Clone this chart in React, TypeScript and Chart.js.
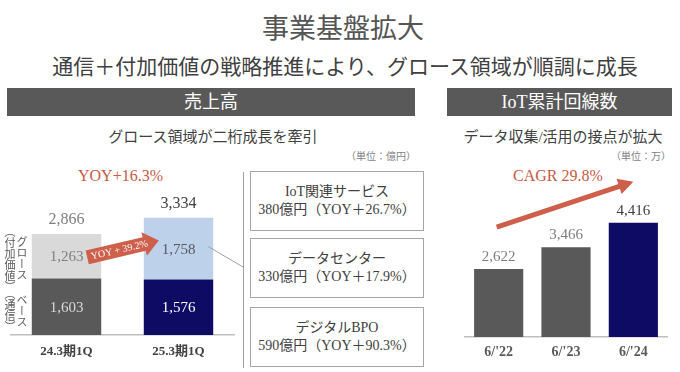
import React, { useEffect, useRef } from "react";
import { Chart, registerables } from "chart.js";

Chart.register(...registerables);

const SERIF = '"Liberation Serif", "DejaVu Serif", "Noto Sans CJK JP", serif';

// ---- Data: 売上高 ----
const salesCategories = ["24.3期1Q", "25.3期1Q"];
const baseValues = [1603, 1576]; // ベース（通信）
const growthValues = [1263, 1758]; // グロース（付加価値）
const salesYoyText = "YOY+16.3%";
const growthYoyText = "YOY + 39.2%";

// ---- Data: IoT累計回線数 ----
const iotCategories = ["6/'22", "6/'23", "6/'24"];
const iotValues = [2622, 3466, 4416];
const iotCagrText = "CAGR 29.8%";

const growthBoxes = [
  ["IoT関連サービス", "380億円（YOY＋26.7%）"],
  ["データセンター", "330億円（YOY＋17.9%）"],
  ["デジタルBPO", "590億円（YOY＋90.3%）"],
];

const RED = "#c65a45";
const fmt = (v: number) => v.toLocaleString("en-US");

function blockArrow(ctx: CanvasRenderingContext2D, x1: number, y1: number, x2: number, y2: number,
  shaftHalf: number, headHalf: number, headLen: number, color: string, text?: string) {
  const ang = Math.atan2(y2 - y1, x2 - x1);
  const len = Math.hypot(x2 - x1, y2 - y1);
  ctx.save();
  ctx.translate(x1, y1);
  ctx.rotate(ang);
  ctx.beginPath();
  ctx.moveTo(0, -shaftHalf);
  ctx.lineTo(len - headLen, -shaftHalf);
  ctx.lineTo(len - headLen, -headHalf);
  ctx.lineTo(len, 0);
  ctx.lineTo(len - headLen, headHalf);
  ctx.lineTo(len - headLen, shaftHalf);
  ctx.lineTo(0, shaftHalf);
  ctx.closePath();
  ctx.fillStyle = color;
  ctx.fill();
  if (text) {
    ctx.fillStyle = "#ffffff";
    ctx.font = `10px ${SERIF}`;
    ctx.textAlign = "center";
    ctx.textBaseline = "middle";
    ctx.fillText(text, len * 0.45, 0.5);
  }
  ctx.restore();
}

function lineArrow(ctx: CanvasRenderingContext2D, x1: number, y1: number, x2: number, y2: number,
  width: number, headHalf: number, headLen: number, color: string) {
  const ang = Math.atan2(y2 - y1, x2 - x1);
  const len = Math.hypot(x2 - x1, y2 - y1);
  ctx.save();
  ctx.translate(x1, y1);
  ctx.rotate(ang);
  ctx.strokeStyle = color;
  ctx.lineWidth = width;
  ctx.beginPath();
  ctx.moveTo(0, 0);
  ctx.lineTo(len - headLen + 1, 0);
  ctx.stroke();
  ctx.beginPath();
  ctx.moveTo(len, 0);
  ctx.lineTo(len - headLen, -headHalf);
  ctx.lineTo(len - headLen, headHalf);
  ctx.closePath();
  ctx.fillStyle = color;
  ctx.fill();
  ctx.restore();
}

const salesPlugin = {
  id: "salesLabels",
  afterDatasetsDraw(chart: any) {
    const ctx: CanvasRenderingContext2D = chart.ctx;
    const m0 = chart.getDatasetMeta(0);
    const m1 = chart.getDatasetMeta(1);
    const baseColors = ["#d9d9d9", "#ffffff"];
    const growthColors = ["#7f7f7f", "#595959"];
    const totalColors = ["#7f7f7f", "#404040"];
    ctx.save();
    ctx.textAlign = "center";
    ctx.textBaseline = "middle";
    ctx.font = `15px ${SERIF}`;
    m0.data.forEach((b: any, i: number) => {
      ctx.fillStyle = baseColors[i];
      ctx.fillText(fmt(baseValues[i]), b.x, (b.y + b.base) / 2 + 1);
    });
    m1.data.forEach((b: any, i: number) => {
      ctx.fillStyle = growthColors[i];
      ctx.fillText(fmt(growthValues[i]), b.x, (b.y + b.base) / 2 + 1);
      ctx.font = `16px ${SERIF}`;
      ctx.fillStyle = totalColors[i];
      ctx.fillText(fmt(baseValues[i] + growthValues[i]), b.x, b.y - 14);
      ctx.font = `15px ${SERIF}`;
    });
    // connector from growth segment to boxes
    const g1 = m1.data[1];
    ctx.strokeStyle = "#a0a0a0";
    ctx.lineWidth = 1;
    ctx.beginPath();
    ctx.moveTo(g1.x + g1.width / 2 - 5, (g1.y + g1.base) / 2 - 2);
    ctx.lineTo(243, 117);
    ctx.stroke();
    // YOY arrow
    const g0 = m1.data[0];
    blockArrow(ctx,
      g0.x + g0.width / 2 - 14, (g0.y + g0.base) / 2 + 1,
      g1.x - g1.width / 2 + 15, (g1.y + g1.base) / 2 - 8,
      7, 12, 15, "#cd5f4b", growthYoyText);
    ctx.restore();
  },
};

const iotPlugin = {
  id: "iotLabels",
  afterDatasetsDraw(chart: any) {
    const ctx: CanvasRenderingContext2D = chart.ctx;
    const m = chart.getDatasetMeta(0);
    const colors = ["#7f7f7f", "#7f7f7f", "#404040"];
    ctx.save();
    ctx.textAlign = "center";
    ctx.textBaseline = "middle";
    ctx.font = `15px ${SERIF}`;
    m.data.forEach((b: any, i: number) => {
      ctx.fillStyle = colors[i];
      ctx.fillText(fmt(iotValues[i]), b.x, b.y - 12);
    });
    const a = m.data[0];
    const c = m.data[m.data.length - 1];
    lineArrow(ctx, a.x - 2, a.y - 42, c.x, c.y - 41, 5, 8, 15, "#cd5f4b");
    ctx.restore();
  },
};

function SalesChart() {
  const ref = useRef<HTMLCanvasElement>(null);
  useEffect(() => {
    const chart = new Chart(ref.current!, {
      type: "bar",
      data: {
        labels: salesCategories,
        datasets: [
          { label: "ベース（通信）", data: baseValues, backgroundColor: ["#595959", "#0e0b65"] },
          { label: "グロース（付加価値）", data: growthValues, backgroundColor: ["#d9d9d9", "#bdd1ea"] },
        ],
      },
      options: {
        responsive: false,
        maintainAspectRatio: false,
        animation: false,
        layout: { padding: { left: 10.5, right: 15.5, top: 9, bottom: 3.4 } },
        datasets: { bar: { barPercentage: 0.62, categoryPercentage: 1 } },
        plugins: { legend: { display: false }, tooltip: { enabled: false } },
        scales: {
          x: {
            stacked: true,
            grid: { display: false, drawTicks: false },
            border: { display: true, color: "#bfbfbf", width: 1.5 },
            ticks: { color: "#404040", padding: 9, font: { family: SERIF, size: 13, weight: "bold" } },
          },
          y: { stacked: true, display: false, min: 0, max: 5000 },
        },
      },
      plugins: [salesPlugin],
    } as any);
    return () => chart.destroy();
  }, []);
  return <canvas ref={ref} width={250} height={222} style={{ position: "absolute", left: 0, top: 150, width: 250, height: 222 }} />;
}

function IotChart() {
  const ref = useRef<HTMLCanvasElement>(null);
  useEffect(() => {
    const chart = new Chart(ref.current!, {
      type: "bar",
      data: {
        labels: iotCategories,
        datasets: [
          { label: "IoT累計回線数", data: iotValues, backgroundColor: ["#595959", "#595959", "#0e0b65"] },
        ],
      },
      options: {
        responsive: false,
        maintainAspectRatio: false,
        animation: false,
        layout: { padding: { left: 25, right: 13, top: 31.6, bottom: 4.2 } },
        datasets: { bar: { barPercentage: 0.73, categoryPercentage: 1 } },
        plugins: { legend: { display: false }, tooltip: { enabled: false } },
        scales: {
          x: {
            grid: { display: false, drawTicks: false },
            border: { display: true, color: "#bfbfbf", width: 1.5 },
            ticks: { color: "#595959", padding: 7, font: { family: SERIF, size: 14, weight: "bold" } },
          },
          y: { display: false, min: 0, max: 6000 },
        },
      },
      plugins: [iotPlugin],
    } as any);
    return () => chart.destroy();
  }, []);
  return <canvas ref={ref} width={240} height={222} style={{ position: "absolute", left: 440, top: 150, width: 240, height: 222 }} />;
}

const abs = (s: React.CSSProperties): React.CSSProperties => ({ position: "absolute", ...s });

export default function App() {
  return (
    <div style={abs({ left: 0, top: 0, width: 680, height: 372, background: "#fff", overflow: "hidden", fontFamily: SERIF })}>
      <div style={abs({ left: 0, top: 11, width: 686, textAlign: "center", fontSize: 27, lineHeight: "36px", color: "#555" })}>事業基盤拡大</div>
      <div style={abs({ left: 0, top: 53, width: 690, textAlign: "center", fontSize: 21, lineHeight: "28px", color: "#404040" })}>
        通信＋付加価値の戦略推進により、グロース領域が順調に成長
      </div>

      {/* header bars */}
      <div style={abs({ left: 7, top: 88, width: 408, height: 28, background: "#595959", color: "#fff", fontSize: 18, lineHeight: "28px", textAlign: "center" })}>売上高</div>
      <div style={abs({ left: 447, top: 88, width: 225, height: 28, background: "#595959", color: "#fff", fontSize: 18, lineHeight: "28px", textAlign: "center" })}>IoT累計回線数</div>

      <div style={abs({ left: 7, top: 127, width: 412, textAlign: "center", fontSize: 15, lineHeight: "20px", color: "#404040" })}>グロース領域が二桁成長を牽引</div>
      <div style={abs({ left: 447, top: 127, width: 232, textAlign: "center", fontSize: 15, lineHeight: "20px", color: "#404040" })}>データ収集/活用の接点が拡大</div>

      <div style={abs({ left: 300, top: 150, width: 116, textAlign: "right", fontSize: 10, lineHeight: "14px", color: "#7f7f7f" })}>（単位：億円）</div>
      <div style={abs({ left: 560, top: 150, width: 111, textAlign: "right", fontSize: 10, lineHeight: "14px", color: "#7f7f7f" })}>（単位：万）</div>

      <div style={abs({ left: 78, top: 165, fontSize: 16, lineHeight: "22px", color: RED, whiteSpace: "nowrap" })}>{salesYoyText}</div>
      <div style={abs({ left: 513, top: 165, fontSize: 16, lineHeight: "22px", color: RED, whiteSpace: "nowrap" })}>{iotCagrText}</div>

      <SalesChart />
      <IotChart />

      {/* vertical labels */}
      <div style={abs({ left: 4, top: 226, height: 64, writingMode: "vertical-rl", textAlign: "center", fontSize: 11, lineHeight: "12px", color: "#595959", fontFamily: '"Noto Sans CJK JP", sans-serif' })}>
        グロース<br />（付加価値）
      </div>
      <div style={abs({ left: 4, top: 280, height: 60, writingMode: "vertical-rl", textAlign: "center", fontSize: 11, lineHeight: "12px", color: "#595959", fontFamily: '"Noto Sans CJK JP", sans-serif' })}>
        ベース<br />（通信）
      </div>

      {/* bracket */}
      <div style={abs({ left: 243, top: 172, width: 1, height: 196, background: "#a0a0a0" })} />
      {growthBoxes.map((b, i) => (
        <div key={i} style={abs({
          left: 250, top: [171, 238, 307][i], width: 172, height: 58, border: "1px solid #a6a6a6",
          display: "flex", flexDirection: "column", justifyContent: "center", alignItems: "center",
          fontSize: 14, lineHeight: "18px", color: "#404040", whiteSpace: "nowrap",
        })}>
          <div>{b[0]}</div>
          <div>{b[1]}</div>
        </div>
      ))}
    </div>
  );
}
